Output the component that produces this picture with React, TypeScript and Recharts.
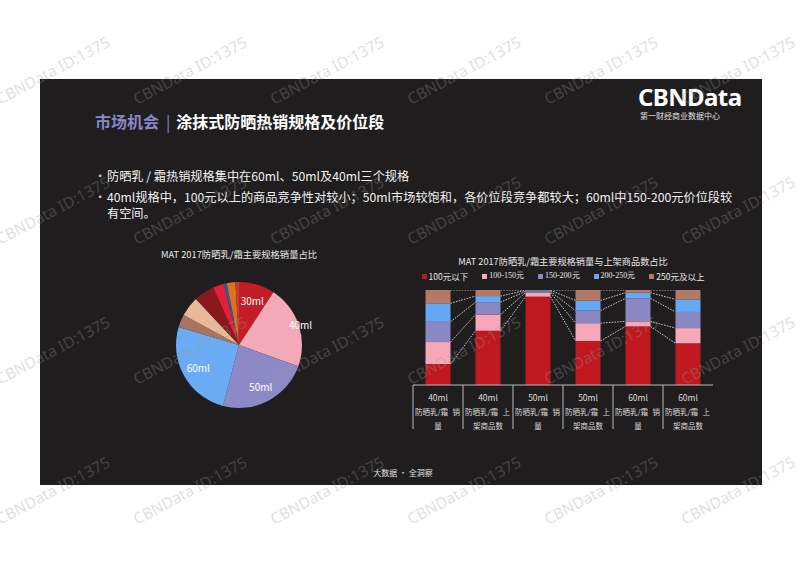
import React from "react";
import { PieChart, Pie, Cell, BarChart, Bar, XAxis, YAxis, Legend } from "recharts";

// pie: share of sales by pack size
const pieNames = ["30ml", "40ml", "50ml", "60ml", "其他1", "其他2", "其他3", "其他4", "其他5", "其他6", "其他7"];
const pieValues = [9.2, 21.3, 23.6, 25.5, 3.3, 5.1, 5.3, 2.8, 0.8, 2.2, 0.9];
const pieColors = ["#c41d25", "#f4a9b8", "#8d89c6", "#6aabf4", "#a8735f", "#e9b898", "#8a191c", "#e3203c", "#2e5aa8", "#d8741e", "#c93a30"];
const pieLabelled = ["30ml", "40ml", "50ml", "60ml"];

// stacked bars: price band share per size, sales vs listed items
const barSpecs = ["40ml", "40ml", "50ml", "50ml", "60ml", "60ml"];
const barKinds = ["销量", "上架商品数", "销量", "上架商品数", "销量", "上架商品数"];
const priceBands = ["100元以下", "100-150元", "150-200元", "200-250元", "250元及以上"];
const below100 = [22.1, 57.1, 93.0, 46.3, 61.7, 43.9];
const from100to150 = [23.1, 17.0, 4.2, 18.8, 5.3, 16.0];
const from150to200 = [21.3, 13.1, 1.3, 13.2, 24.2, 17.0];
const from200to250 = [19.5, 6.4, 1.1, 10.7, 6.0, 13.2];
const from250up = [14.0, 6.4, 0.4, 11.0, 2.8, 9.9];

const bandKeys = ["b1", "b2", "b3", "b4", "b5"];
const bandColors = ["#c0181f", "#f6a8b8", "#8b87c3", "#67a8f2", "#b47a66"];
const serifBands = [false, true, true, true, false];

const pieData = pieNames.map((name, i) => ({ name, value: pieValues[i] }));
const barData = barSpecs.map((spec, i) => ({
  id: i,
  spec,
  kind: barKinds[i],
  b1: below100[i],
  b2: from100to150[i],
  b3: from150to200[i],
  b4: from200to250[i],
  b5: from250up[i],
}));

const FONT = '"Noto Sans CJK SC", "Noto Sans", sans-serif';
const RADIAN = Math.PI / 180;

const renderPieLabel = (p: any) => {
  if (!pieLabelled.includes(p.name)) return null;
  const f = p.name === "40ml" ? 1.03 : 0.74;
  const r = p.outerRadius * f;
  const x = p.cx + r * Math.cos(-p.midAngle * RADIAN);
  const y = p.cy + r * Math.sin(-p.midAngle * RADIAN);
  return (
    <text x={x} y={y} fill="#fff" fontSize={10} fontFamily={FONT} textAnchor="middle" dominantBaseline="central">
      {p.name}
    </text>
  );
};

// remembers where each segment was drawn so the dotted series lines can join neighbours
const segStore: Record<string, { x: number; y: number; w: number }[]> = {};

function makeSegment(key: string, fill: string) {
  return (p: any) => {
    const { x, y, width, height, index } = p;
    const arr = segStore[key] || (segStore[key] = []);
    arr[index] = { x, y, w: width };
    const prev = index > 0 ? arr[index - 1] : null;
    return (
      <g>
        <rect x={x} y={y} width={width} height={Math.max(height, 0)} fill={fill} />
        {prev && (
          <line x1={prev.x + prev.w} y1={prev.y} x2={x} y2={y} stroke="#d9d9d9" strokeWidth={0.9} strokeDasharray="1.6 1.2" />
        )}
      </g>
    );
  };
}

const AxisTick = (p: any) => {
  const cx = p.x;
  const y = p.y;
  const half = p.payload && p.payload.offset ? p.payload.offset : 25;
  const row = barData[p.index] || barData[0];
  const last = row.kind.slice(0, 1);
  const rest = row.kind.slice(1);
  return (
    <g fontFamily={FONT} fill="#dcdcdc">
      <line x1={cx - half} y1={y} x2={cx - half} y2={y + 44} stroke="#bdbdbd" strokeWidth={1} />
      <text x={cx} y={y + 12} fontSize={8.5} textAnchor="middle" dominantBaseline="central">{row.spec}</text>
      <text x={cx - half + 2} y={y + 26} fontSize={7.5} dominantBaseline="central">防晒乳/霜</text>
      <text x={cx + half - 3} y={y + 26} fontSize={7.5} textAnchor="end" dominantBaseline="central">{last}</text>
      <text x={cx} y={y + 40} fontSize={7.5} textAnchor="middle" dominantBaseline="central">{rest || "量"}</text>
    </g>
  );
};

const BarHeader = () => (
  <div style={{ height: 40, position: "relative", fontFamily: FONT, color: "#e8e8e8" }}>
    <div style={{ position: "absolute", left: 0, right: 0, top: 5, textAlign: "center", fontSize: 9.2, lineHeight: "12px" }}>
      MAT 2017防晒乳/霜主要规格销量与上架商品数占比
    </div>
    <div style={{ position: "absolute", left: 0, right: 0, top: 20, display: "flex", justifyContent: "center", gap: 14, fontSize: 8.5, lineHeight: "12px" }}>
      {priceBands.map((b, i) => (
        <div key={b} style={{ display: "flex", alignItems: "center" }}>
          <span style={{ width: 5, height: 5, background: bandColors[i], marginRight: 2, display: "inline-block" }} />
          <span style={{ fontFamily: serifBands[i] ? '"Liberation Serif", serif' : FONT, fontSize: serifBands[i] ? 8 : 8.5 }}>{b}</span>
        </div>
      ))}
    </div>
  </div>
);

const Watermarks = () => {
  const cols = [0, 137, 274, 411, 548, 685];
  const rows = [105, 245, 385, 525];
  return (
    <svg width={802} height={567} style={{ position: "absolute", left: 0, top: 0, pointerEvents: "none" }}>
      {rows.map((ry) =>
        cols.map((cx) => (
          <text
            key={`${cx}-${ry}`}
            x={cx}
            y={ry}
            transform={`rotate(-28 ${cx} ${ry})`}
            fontSize={15.5}
            fontFamily='"Noto Sans", sans-serif'
            fill="#9a9a9a"
            opacity={0.3}
          >
            CBNData ID:1375
          </text>
        ))
      )}
    </svg>
  );
};

export default function App() {
  return (
    <div style={{ position: "absolute", left: 0, top: 0, width: 802, height: 567, background: "#fff", overflow: "hidden", fontFamily: FONT }}>
      <div style={{ position: "absolute", left: 40, top: 79, width: 722, height: 406, background: "#1f1d1e" }} />

      <div style={{ position: "absolute", left: 95, top: 111, fontSize: 16, lineHeight: "20px", fontWeight: 700, color: "#fff", whiteSpace: "nowrap" }}>
        <span style={{ color: "#8a86c8" }}>市场机会</span>
        <span style={{ color: "#8a86c8", margin: "0 6px 0 7px", fontWeight: 400 }}>|</span>
        <span>涂抹式防晒热销规格及价位段</span>
      </div>

      <div style={{ position: "absolute", left: 638, top: 85, fontSize: 24, lineHeight: "24px", fontWeight: 700, color: "#fff", fontFamily: '"Noto Sans", sans-serif', letterSpacing: -0.6 }}>
        CBNData
      </div>
      <div style={{ position: "absolute", left: 640, top: 111, fontSize: 8, lineHeight: "10px", color: "#e0e0e0" }}>第一财经商业数据中心</div>

      <div style={{ position: "absolute", left: 94, top: 168, width: 670, fontSize: 12.2, lineHeight: "16px", color: "#f2f2f2" }}>
        <div style={{ display: "flex" }}>
          <span style={{ width: 13, flex: "none", color: "#cfcfcf" }}>•</span>
          <span>防晒乳 / 霜热销规格集中在60ml、50ml及40ml三个规格</span>
        </div>
        <div style={{ display: "flex", marginTop: 5 }}>
          <span style={{ width: 13, flex: "none", color: "#cfcfcf" }}>•</span>
          <span style={{ whiteSpace: "nowrap" }}>
            40ml规格中，100元以上的商品竞争性对较小；50ml市场较饱和，各价位段竞争都较大；60ml中150-200元价位段较
            <br />
            有空间。
          </span>
        </div>
      </div>

      <div style={{ position: "absolute", left: 139, top: 248, width: 200, textAlign: "center", fontSize: 9.3, lineHeight: "12px", color: "#e8e8e8" }}>
        MAT 2017防晒乳/霜主要规格销量占比
      </div>
      <div style={{ position: "absolute", left: 139, top: 245 }}>
        <PieChart width={200} height={200}>
          <Pie
            data={pieData}
            dataKey="value"
            nameKey="name"
            cx="50%"
            cy="50%"
            outerRadius={63}
            startAngle={90}
            endAngle={-270}
            stroke="none"
            label={renderPieLabel}
            labelLine={false}
            isAnimationActive={false}
          >
            {pieData.map((d, i) => (
              <Cell key={d.name} fill={pieColors[i]} />
            ))}
          </Pie>
        </PieChart>
      </div>

      <div style={{ position: "absolute", left: 400, top: 245 }}>
        <BarChart width={330} height={195} data={barData} margin={{ top: 5, right: 17, left: 13, bottom: 0 }} barCategoryGap="25%">
          <XAxis
            dataKey="id"
            type="category"
            height={55}
            tick={<AxisTick />}
            tickLine={false}
            tickSize={0}
            tickMargin={0}
            interval={0}
            axisLine={{ stroke: "#bdbdbd", strokeWidth: 1 }}
          />
          <YAxis hide domain={[0, 100]} allowDataOverflow />
          <Legend verticalAlign="top" align="center" content={() => <BarHeader />} />
          {bandKeys.map((k, i) => (
            <Bar key={k} dataKey={k} name={priceBands[i]} stackId="s" fill={bandColors[i]} shape={makeSegment(k, bandColors[i])} isAnimationActive={false} />
          ))}
        </BarChart>
      </div>

      <div style={{ position: "absolute", left: 340, top: 467, width: 126, textAlign: "center", fontSize: 8, lineHeight: "12px", color: "#e0e0e0" }}>
        大数据 · 全洞察
      </div>

      <Watermarks />
    </div>
  );
}
